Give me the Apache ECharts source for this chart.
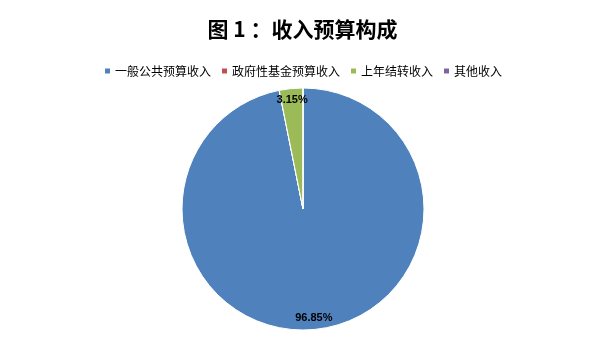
<!DOCTYPE html>
<html><head><meta charset="utf-8">
<script src="https://cdn.jsdelivr.net/npm/echarts@6/dist/echarts.min.js"></script>
<style>html,body{margin:0;padding:0;background:#fff}#c{width:605px;height:340px}</style>
</head><body><div id="c"></div>
<script>
const categories = ['一般公共预算收入', '政府性基金预算收入', '上年结转收入', '其他收入'];
const values = [96.85, 0, 3.15, 0];
const colors = ['#4F81BD', '#C0504D', '#9BBB59', '#8064A2'];
const titleText = '图 1 ：收入预算构成';

const chart = echarts.init(document.getElementById('c'));
const data = categories.map((n, i) => ({ name: n, value: values[i], itemStyle: { color: colors[i] } }));
const fontFam = '"Noto Sans CJK SC", "Liberation Sans", sans-serif';
chart.setOption({
  animation: false,
  title: {
    text: titleText, left: 'center', top: 14,
    textStyle: { fontSize: 21, fontWeight: 'bold', color: '#000', fontFamily: fontFam }
  },
  legend: {
    data: categories, top: 60, left: 'center',
    itemWidth: 7, itemHeight: 7, itemGap: 9, icon: 'rect',
    textStyle: { fontSize: 12, color: '#000', fontFamily: fontFam, padding: [0, 0, 0, -1] }
  },
  series: [
    {
      type: 'pie', center: [303, 209], radius: [0, 121],
      startAngle: 90, clockwise: true,
      data: data,
      itemStyle: { borderColor: '#fff', borderWidth: 1 },
      label: { show: false }, labelLine: { show: false },
      emphasis: { disabled: true }
    },
    {
      type: 'pie', center: [303, 209], radius: [95, 119],
      startAngle: 90, clockwise: true, silent: true,
      data: data.map(d => ({ name: d.name, value: d.value, itemStyle: { color: 'rgba(0,0,0,0)' } })),
      itemStyle: { borderWidth: 0 },
      label: {
        show: true, position: 'inside',
        formatter: p => p.value > 0 ? p.value.toFixed(2) + '%' : '',
        fontSize: 11, fontWeight: 'bold', color: '#000', fontFamily: '"Liberation Sans", sans-serif'
      },
      labelLine: { show: false },
      emphasis: { disabled: true }
    }
  ]
});
</script></body></html>
